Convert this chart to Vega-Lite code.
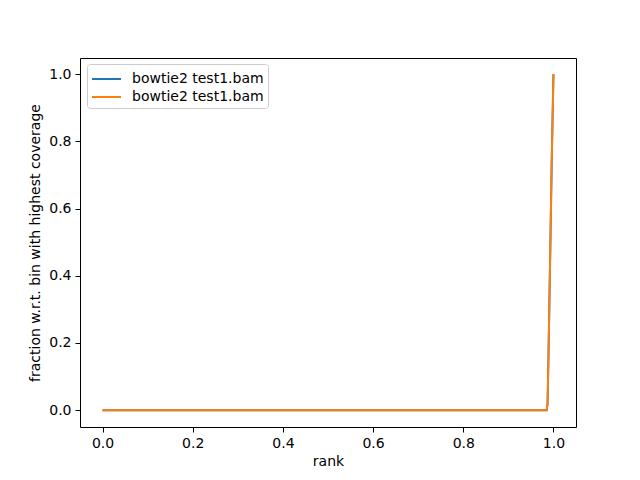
{
  "$schema": "https://vega.github.io/schema/vega-lite/v6.json",
  "width": 496,
  "height": 369,
  "autosize": {"type": "none"},
  "padding": {"left": 80, "top": 58, "right": 64, "bottom": 53},
  "background": "white",
  "config": {
    "font": "DejaVu Sans",
    "view": {"stroke": "black", "strokeWidth": 1},
    "axis": {
      "grid": false,
      "domain": false,
      "tickColor": "black",
      "tickSize": 5,
      "labelFontSize": 14,
      "labelColor": "black",
      "titleFontSize": 14,
      "titleFontWeight": "normal",
      "titleColor": "black",
      "labelPadding": 4
    }
  },
  "data": {
    "values": [
      {"series": "a", "rank": 0.0, "fraction": 0.0},
      {"series": "a", "rank": 0.5, "fraction": 0.0},
      {"series": "a", "rank": 0.985, "fraction": 0.0},
      {"series": "a", "rank": 0.987, "fraction": 0.02},
      {"series": "a", "rank": 0.99, "fraction": 0.24},
      {"series": "a", "rank": 0.993, "fraction": 0.48},
      {"series": "a", "rank": 0.996, "fraction": 0.73},
      {"series": "a", "rank": 1.0, "fraction": 1.0},
      {"series": "b", "rank": 0.0, "fraction": 0.0},
      {"series": "b", "rank": 0.5, "fraction": 0.0},
      {"series": "b", "rank": 0.985, "fraction": 0.0},
      {"series": "b", "rank": 0.987, "fraction": 0.02},
      {"series": "b", "rank": 0.99, "fraction": 0.24},
      {"series": "b", "rank": 0.993, "fraction": 0.48},
      {"series": "b", "rank": 0.996, "fraction": 0.73},
      {"series": "b", "rank": 1.0, "fraction": 1.0}
    ]
  },
  "mark": {"type": "line", "strokeWidth": 2},
  "encoding": {
    "x": {
      "field": "rank",
      "type": "quantitative",
      "title": "rank",
      "scale": {"domain": [-0.05, 1.05], "nice": false, "zero": false},
      "axis": {"values": [0, 0.2, 0.4, 0.6, 0.8, 1.0], "format": ".1f"}
    },
    "y": {
      "field": "fraction",
      "type": "quantitative",
      "title": "fraction w.r.t. bin with highest coverage",
      "scale": {"domain": [-0.05, 1.048], "nice": false, "zero": false},
      "axis": {"values": [0, 0.2, 0.4, 0.6, 0.8, 1.0], "format": ".1f", "titlePadding": 6}
    },
    "color": {
      "field": "series",
      "type": "nominal",
      "scale": {"domain": ["a", "b"], "range": ["#1f77b4", "#ff7f0e"]},
      "legend": {
        "title": null,
        "orient": "none",
        "legendX": 7,
        "legendY": 6,
        "labelExpr": "'bowtie2 test1.bam'",
        "labelFontSize": 14,
        "labelColor": "black",
        "symbolType": "M-1,0H1.9",
        "symbolSize": 400,
        "symbolStrokeWidth": 2,
        "fillColor": "white",
        "strokeColor": "#cccccc",
        "cornerRadius": 3,
        "padding": 4,
        "rowPadding": 0,
        "labelOffset": 19
      }
    },
    "order": {"field": "series"}
  }
}
